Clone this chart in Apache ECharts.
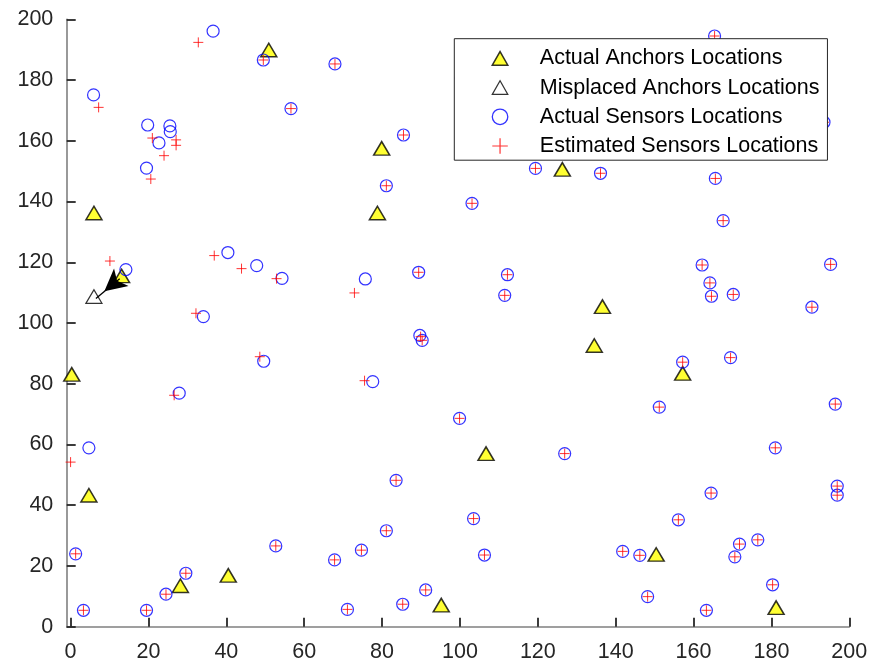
<!DOCTYPE html>
<html><head><meta charset="utf-8">
<script src="https://cdn.jsdelivr.net/npm/echarts@6/dist/echarts.min.js"></script>
<style>html,body{margin:0;padding:0;background:#fff}#c{width:873px;height:666px}</style>
</head><body><div id="c"></div><script>
// ---- data ----
const seriesNames = ['Actual Anchors Locations', 'Misplaced Anchors Locations', 'Actual Sensors Locations', 'Estimated Sensors Locations'];
const xTicks = [0, 20, 40, 60, 80, 100, 120, 140, 160, 180, 200];
const yTicks = [0, 20, 40, 60, 80, 100, 120, 140, 160, 180, 200];

const anchorX = [50.9, 79.9, 126.3, 6.0, 78.8, 13.1, 136.6, 134.5, 157.2, 0.3, 106.7, 4.7, 150.4, 40.5, 28.2, 95.2, 181.2];
const anchorY = [189.9, 157.5, 150.6, 136.2, 136.2, 115.5, 105.4, 92.6, 83.4, 83.1, 57.0, 43.3, 23.8, 16.9, 13.5, 7.1, 6.3];

const misplacedX = [6.0];
const misplacedY = [108.7];

const arrowStart = [12.6, 114.6];
const arrowEnd = [6.5, 108.1];

const sensorX = [36.6, 49.5, 5.9, 19.8, 25.5, 25.6, 22.7, 19.5, 67.9, 56.6, 85.5, 81.1, 103.1, 100.3, 165.4, 193.5, 119.4, 136.1, 165.6,
  167.6, 112.2, 111.5, 162.2, 164.2, 164.6, 170.2, 195.2, 190.4, 157.2, 169.5, 151.2, 196.4,
  14.2, 40.4, 47.8, 54.3, 89.4, 75.7, 89.7, 90.3, 49.6, 77.6, 99.9, 34.1, 27.9,
  4.7, 1.3, 3.3, 19.5, 24.5, 29.6, 52.7, 83.6, 103.5, 67.8, 74.7, 81.1, 91.2, 85.3, 71.1, 106.3,
  181.0, 126.9, 164.5, 196.9, 196.9, 156.1, 176.5, 171.8, 170.6, 141.8, 146.2, 180.3, 148.2, 163.3];
const sensorY = [196.1, 186.6, 175.1, 165.2, 164.9, 163.0, 159.3, 151.0, 185.3, 170.6, 161.9, 145.2, 139.4, 180.7, 194.5, 166.1, 150.9, 149.3, 147.6,
  133.7, 115.9, 109.1, 119.1, 113.2, 108.8, 109.4, 119.3, 105.2, 87.1, 88.6, 72.3, 73.3,
  117.6, 123.2, 118.9, 114.7, 116.7, 114.5, 95.9, 94.3, 87.4, 80.7, 68.6, 102.1, 76.9,
  58.9, 24.0, 5.4, 5.4, 10.7, 17.6, 26.6, 48.2, 35.6, 22.0, 25.2, 31.6, 12.1, 7.4, 5.7, 23.6,
  58.9, 57.0, 44.0, 46.3, 43.3, 35.2, 28.6, 27.2, 23.0, 24.8, 23.5, 13.8, 9.9, 5.4];

const estX = [32.8, 49.5, 7.2, 21.0, 27.1, 27.1, 24.0, 20.6, 67.9, 56.6, 85.5, 81.1, 103.1, 100.3, 165.4, 193.5, 119.4, 136.1, 165.6,
  167.6, 112.2, 111.5, 162.2, 164.2, 164.6, 170.2, 195.2, 190.4, 157.2, 169.5, 151.2, 196.4,
  10.1, 36.9, 43.9, 52.9, 89.4, 72.9, 89.9, 90.3, 48.6, 75.5, 99.9, 32.2, 26.6,
  0.0, 1.3, 3.3, 19.5, 24.5, 29.6, 52.7, 83.6, 103.5, 67.8, 74.7, 81.1, 91.2, 85.3, 71.1, 106.3,
  181.0, 126.9, 164.5, 196.9, 196.9, 156.1, 176.5, 171.8, 170.6, 141.8, 146.2, 180.3, 148.2, 163.3];
const estY = [192.4, 186.6, 171.0, 160.9, 160.3, 158.5, 155.1, 147.4, 185.3, 170.6, 161.9, 145.2, 139.4, 180.7, 194.5, 166.1, 150.9, 149.3, 147.6,
  133.7, 115.9, 109.1, 119.1, 113.2, 108.8, 109.4, 119.3, 105.2, 87.1, 88.6, 72.3, 73.3,
  120.4, 122.2, 117.9, 114.6, 116.7, 109.9, 95.5, 94.3, 88.9, 81.0, 68.6, 103.2, 76.2,
  54.2, 24.0, 5.4, 5.4, 10.7, 17.6, 26.6, 48.2, 35.6, 22.0, 25.2, 31.6, 12.1, 7.4, 5.7, 23.6,
  58.9, 57.0, 44.0, 46.3, 43.3, 35.2, 28.6, 27.2, 23.0, 24.8, 23.5, 13.8, 9.9, 5.4];

// ---- chart ----
const FONT = "'Liberation Sans', Arial, Helvetica, sans-serif";
const triPath = 'path://M0,14L8,0L16,14Z';
const plusPath = 'path://M5,0L5,10M0,5L10,5';
const pts = (xs, ys) => xs.map((x, i) => [x, ys[i]]);

const axisCommon = {
  type: 'value',
  splitLine: { show: false },
  axisLine: { show: true, onZero: false, lineStyle: { color: '#808080', width: 1.6 } },
  axisTick: { show: true, inside: true, length: 9, lineStyle: { color: '#262626', width: 1.8 } },
};

const chart = echarts.init(document.getElementById('c'), null, { renderer: 'canvas' });
chart.setOption({
  animation: false,
  backgroundColor: '#fff',
  grid: { left: 66.7, right: 23.7, top: 19.3, bottom: 39.3, containLabel: false, outerBoundsMode: 'none' },
  xAxis: Object.assign({}, axisCommon, {
    min: -1, max: xTicks[xTicks.length - 1], splitNumber: xTicks.length - 1,
    axisLabel: { showMinLabel: false, margin: 14.5, color: '#262626', fontSize: 21.5, fontFamily: FONT,
      formatter: v => (xTicks.indexOf(v) >= 0 ? String(v) : '') }
  }),
  yAxis: Object.assign({}, axisCommon, {
    min: yTicks[0], max: yTicks[yTicks.length - 1], interval: yTicks[1] - yTicks[0],
    axisLabel: { margin: 13.4, color: '#262626', fontSize: 21.5, fontFamily: FONT }
  }),
  legend: {
    z: 20, zlevel: 0,
    orient: 'vertical', left: 454.3, top: 38.7,
    padding: [8.7, 8, 3.2, 35.5],
    itemWidth: 15.5, itemHeight: 15.5, itemGap: 7.2,
    backgroundColor: '#fff', borderColor: '#262626', borderWidth: 1, borderRadius: 0,
    selectedMode: false,
    textStyle: { fontSize: 21.5, fontFamily: FONT, color: '#000', lineHeight: 22, padding: [0, 0, 0, 27] },
    data: [
      { name: seriesNames[0], icon: triPath, itemStyle: { color: '#ffff00', borderColor: '#000', borderWidth: 1.5 } },
      { name: seriesNames[1], icon: triPath, itemStyle: { color: 'none', borderColor: '#000', borderWidth: 1.2 } },
      { name: seriesNames[2], icon: 'circle', itemStyle: { color: 'none', borderColor: '#0000ff', borderWidth: 1.3 } },
      { name: seriesNames[3], icon: plusPath, itemStyle: { color: 'none', borderColor: '#ff0000', borderWidth: 1.2 } }
    ]
  },
  series: [
    { name: seriesNames[0], type: 'scatter', symbol: triPath, symbolSize: [16, 13.5], data: pts(anchorX, anchorY),
      itemStyle: { color: '#ffff00', borderColor: '#000', borderWidth: 1.5 }, emphasis: { disabled: true }, z: 2 },
    { name: seriesNames[1], type: 'scatter', symbol: triPath, symbolSize: [16, 13.5], data: pts(misplacedX, misplacedY),
      itemStyle: { color: 'none', borderColor: '#000', borderWidth: 1.2 }, emphasis: { disabled: true }, z: 3,
      markLine: {
        silent: true, animation: false, symbol: ['none', 'arrow'], symbolSize: [17, 22], symbolOffset: [[0, 0], [0, 11]],
        label: { show: false }, emphasis: { disabled: true },
        lineStyle: { color: '#000', width: 1.3, type: 'solid' },
        data: [[{ coord: arrowStart }, { coord: arrowEnd }]]
      } },
    { name: seriesNames[2], type: 'scatter', symbol: 'circle', symbolSize: 12, data: pts(sensorX, sensorY),
      itemStyle: { color: 'none', borderColor: '#0000ff', borderWidth: 1.2 }, emphasis: { disabled: true }, z: 4 },
    { name: seriesNames[3], type: 'scatter', symbol: plusPath, symbolSize: 10, data: pts(estX, estY),
      itemStyle: { color: 'none', borderColor: '#ff0000', borderWidth: 1 }, emphasis: { disabled: true }, z: 5 }
  ]
});
</script></body></html>
